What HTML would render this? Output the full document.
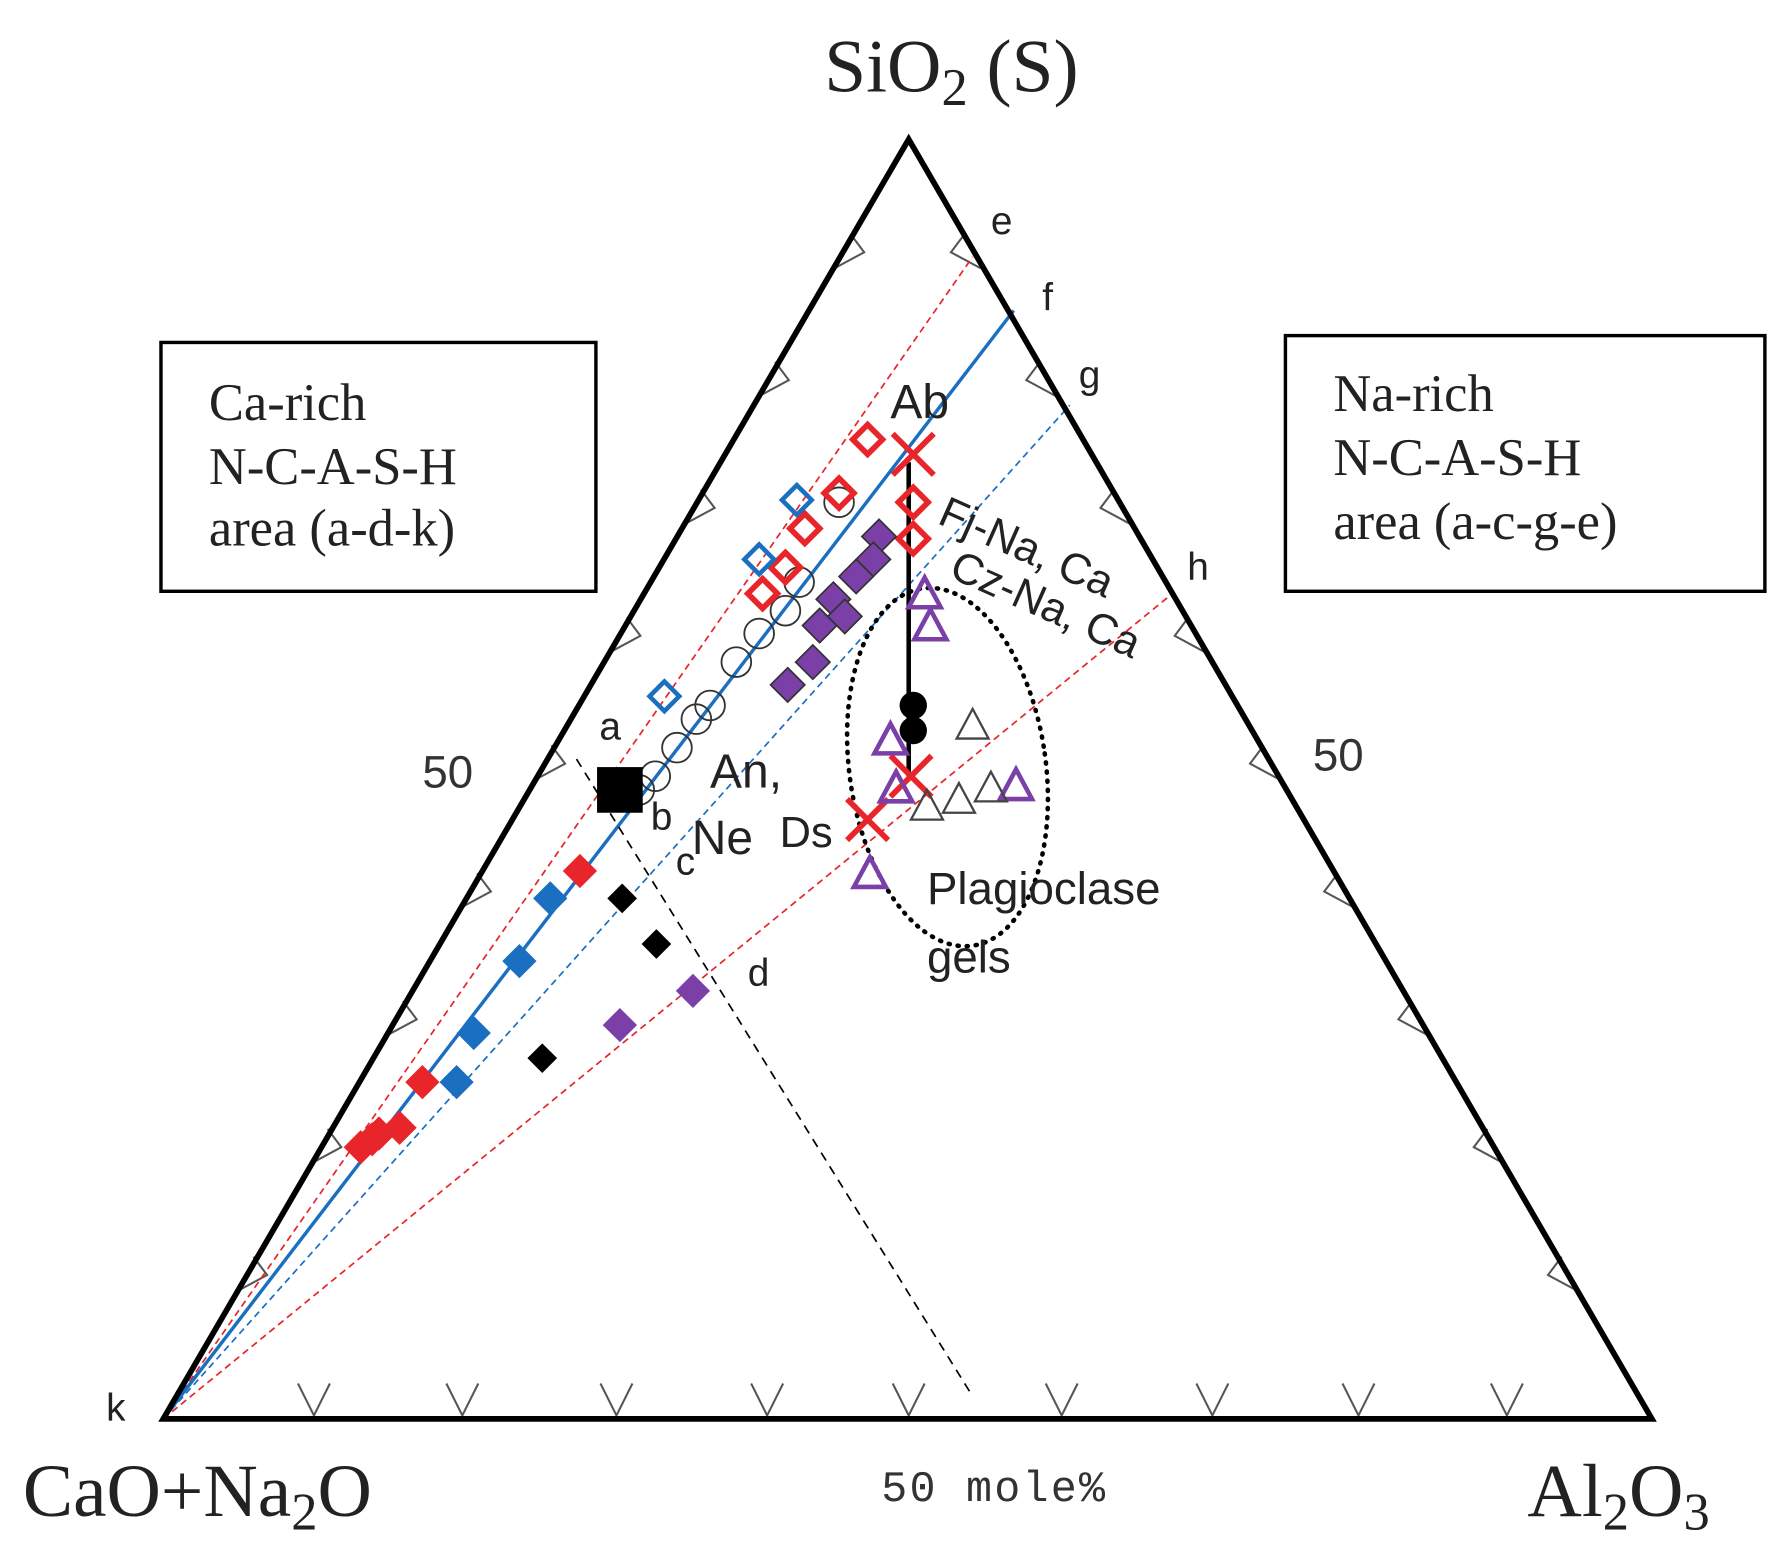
<!DOCTYPE html>
<html><head><meta charset="utf-8"><style>
html,body{margin:0;padding:0;background:#fff;}
svg{display:block;}
.serif{font-family:"Liberation Serif",serif;}
.sans{font-family:"Liberation Sans",sans-serif;}
</style></head><body>
<svg width="1790" height="1557" viewBox="0 0 1568 1364" preserveAspectRatio="none" xmlns="http://www.w3.org/2000/svg">
<defs>
<path id="dm" d="M0,-15 L15,0 L0,15 L-15,0 Z"/>
<path id="dmo" d="M0,-13 L13,0 L0,13 L-13,0 Z"/>
<path id="tri" d="M0,-14 L14,12 L-14,12 Z"/>
<path id="xx" d="M-18,-18 L18,18 M18,-18 L-18,18"/>
</defs>
<!-- ticks -->
<g stroke="#555" stroke-width="1.8" fill="none">
<path d="M261,1212 L275,1240 L289,1212 M391,1212 L405,1240 L419,1212 M526,1212 L540,1240 L554,1212 M658,1212 L672,1240 L686,1212 M782,1212 L796,1240 L810,1212 M916,1212 L930,1240 L944,1212 M1048,1212 L1062,1240 L1076,1212 M1176,1212 L1190,1240 L1204,1212 M1306,1212 L1320,1240 L1334,1212"/>
<path d="M208,1131 l26,-14 l-12,-16 M273,1019 l26,-14 l-12,-16 M339,907 l26,-14 l-12,-16 M404,795 l26,-14 l-12,-16 M469,683 l26,-14 l-12,-16 M535,571 l26,-14 l-12,-16 M600,459 l26,-14 l-12,-16 M665,347 l26,-14 l-12,-16 M731,235 l26,-14 l-12,-16"/>
<path d="M1382,1131 l-26,-14 l12,-16 M1317,1019 l-26,-14 l12,-16 M1251,907 l-26,-14 l12,-16 M1186,795 l-26,-14 l12,-16 M1121,683 l-26,-14 l12,-16 M1055,571 l-26,-14 l12,-16 M990,459 l-26,-14 l12,-16 M925,347 l-26,-14 l12,-16 M859,235 l-26,-14 l12,-16"/>
</g>
<!-- lines from k -->
<line x1="143" y1="1243" x2="852" y2="225" stroke="#e8252a" stroke-width="1.5" stroke-dasharray="6,4"/>
<line x1="143" y1="1243" x2="888" y2="272" stroke="#1a6fc0" stroke-width="3"/>
<line x1="143" y1="1243" x2="937" y2="355" stroke="#1a6fc0" stroke-width="1.5" stroke-dasharray="6,4"/>
<line x1="143" y1="1243" x2="1027" y2="520" stroke="#e8252a" stroke-width="1.5" stroke-dasharray="6,4"/>
<line x1="505" y1="665" x2="850" y2="1220" stroke="#000" stroke-width="1.5" stroke-dasharray="8,6"/>
<line x1="796" y1="405" x2="796" y2="680" stroke="#000" stroke-width="4"/>
<ellipse cx="830" cy="672" rx="86" ry="158" transform="rotate(-8 830 672)" fill="none" stroke="#000" stroke-width="4" stroke-dasharray="1,7" stroke-linecap="round"/>
<!-- triangle -->
<path d="M796,122 L1447,1243 L143,1243 Z" fill="none" stroke="#000" stroke-width="5" stroke-linejoin="miter"/>
<!-- boxes -->
<rect x="141" y="300" width="381" height="218" fill="none" stroke="#000" stroke-width="3"/>
<rect x="1126" y="294" width="420" height="224" fill="none" stroke="#000" stroke-width="3"/>
<g class="serif" font-size="46" fill="#222">
<text x="183" y="368">Ca-rich</text><text x="183" y="424">N-C-A-S-H</text><text x="183" y="478">area (a-d-k)</text>
<text x="1168" y="360">Na-rich</text><text x="1168" y="416">N-C-A-S-H</text><text x="1168" y="472">area (a-c-g-e)</text>
</g>
<g class="serif" font-size="66" fill="#222">
<text x="722" y="80">SiO<tspan font-size="46" dy="12">2</tspan><tspan dy="-12"> (S)</tspan></text>
<text x="20" y="1328">CaO+Na<tspan font-size="46" dy="12">2</tspan><tspan dy="-12">O</tspan></text>
<text x="1338" y="1328">Al<tspan font-size="46" dy="12">2</tspan><tspan dy="-12">O</tspan><tspan font-size="46" dy="12">3</tspan></text>
</g>
<text x="772" y="1315" font-family="Liberation Mono,monospace" font-size="38" fill="#333" textLength="196">50 mole%</text>
<g class="sans" fill="#333" font-size="40">
<text x="370" y="690">50</text><text x="1150" y="675">50</text>
</g>
<g class="sans" fill="#222" font-size="34">
<text x="868" y="205">e</text><text x="913" y="272">f</text><text x="945" y="340">g</text><text x="1040" y="508">h</text>
<text x="525" y="648">a</text><text x="570" y="727">b</text><text x="592" y="766">c</text><text x="655" y="864">d</text><text x="93" y="1245">k</text>
<text x="780" y="366" font-size="42">Ab</text>
<text x="622" y="690" font-size="42">An,</text>
<text x="606" y="748" font-size="42">Ne</text>
<text x="683" y="742" font-size="38">Ds</text>
<text x="812" y="792" font-size="40">Plagioclase</text>
<text x="812" y="852" font-size="40">gels</text>
<text x="820" y="458" font-size="38" transform="rotate(24 820 458)">Fj-Na, Ca</text>
<text x="830" y="505" font-size="38" transform="rotate(24 830 505)">Cz-Na, Ca</text>
</g>
<!-- markers -->
<g fill="none" stroke="#333" stroke-width="1.6">
<circle cx="735" cy="440" r="13"/><circle cx="700" cy="510" r="13"/><circle cx="688" cy="535" r="13"/><circle cx="665" cy="555" r="13"/><circle cx="645" cy="580" r="13"/><circle cx="622" cy="618" r="13"/><circle cx="610" cy="630" r="13"/><circle cx="593" cy="655" r="13"/><circle cx="574" cy="680" r="13"/><circle cx="560" cy="692" r="13"/>
</g>
<g fill="none" stroke="#e8252a" stroke-width="5">
<use href="#dmo" x="760" y="385"/><use href="#dmo" x="735" y="432"/><use href="#dmo" x="705" y="463"/><use href="#dmo" x="688" y="497"/><use href="#dmo" x="668" y="520"/><use href="#dmo" x="800" y="440"/><use href="#dmo" x="800" y="472"/>
<use href="#xx" x="800" y="398"/><use href="#xx" x="798" y="680"/><use href="#xx" x="760" y="718"/>
</g>
<g fill="none" stroke="#1a6fc0" stroke-width="4">
<use href="#dmo" x="698" y="438"/><use href="#dmo" x="665" y="490"/><use href="#dmo" x="582" y="610"/>
</g>
<g fill="#7b3fa8" stroke="#333" stroke-width="1.5">
<use href="#dm" x="770" y="470"/><use href="#dm" x="765" y="490"/><use href="#dm" x="750" y="505"/><use href="#dm" x="730" y="525"/><use href="#dm" x="718" y="548"/><use href="#dm" x="740" y="540"/><use href="#dm" x="712" y="580"/><use href="#dm" x="690" y="600"/>
</g>
<g fill="none" stroke="#7b3fa8" stroke-width="4">
<use href="#tri" x="810" y="520"/><use href="#tri" x="815" y="548"/><use href="#tri" x="780" y="648"/><use href="#tri" x="785" y="690"/><use href="#tri" x="890" y="688"/><use href="#tri" x="762" y="765"/>
</g>
<g fill="none" stroke="#444" stroke-width="2">
<use href="#tri" x="852" y="635"/><use href="#tri" x="812" y="706"/><use href="#tri" x="840" y="700"/><use href="#tri" x="868" y="690"/>
</g>
<circle cx="800" cy="618" r="12" fill="#000"/><circle cx="800" cy="640" r="12" fill="#000"/>
<rect x="523" y="672" width="40" height="40" fill="#000"/>
<g fill="#e8252a">
<use href="#dm" x="508" y="763"/><use href="#dm" x="370" y="948"/><use href="#dm" x="350" y="988"/><use href="#dm" x="332" y="993"/><use href="#dm" x="316" y="1005"/><use href="#dm" x="326" y="998"/>
</g>
<g fill="#1a6fc0">
<use href="#dm" x="482" y="787"/><use href="#dm" x="455" y="842"/><use href="#dm" x="415" y="905"/><use href="#dm" x="400" y="948"/>
</g>
<g fill="#000">
<use href="#dmo" x="545" y="787"/><use href="#dmo" x="575" y="827"/><use href="#dmo" x="475" y="927"/>
</g>
<g fill="#7b3fa8">
<use href="#dm" x="607" y="868"/><use href="#dm" x="543" y="898"/>
</g>
</svg>
</body></html>
